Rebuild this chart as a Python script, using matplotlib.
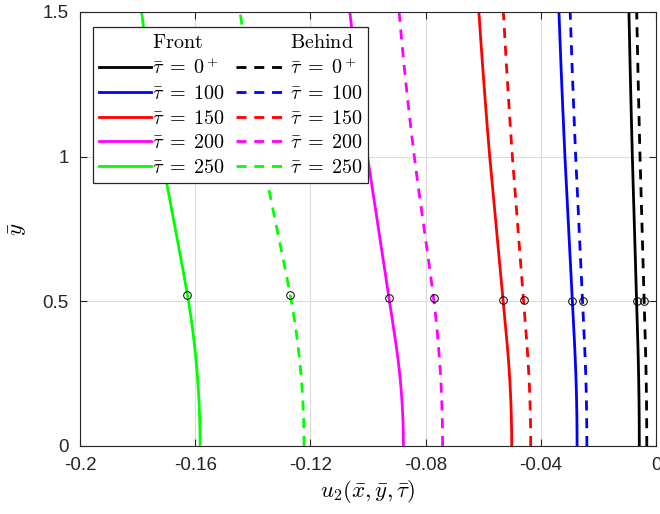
import matplotlib
matplotlib.use("Agg")
import matplotlib.pyplot as plt
from matplotlib.lines import Line2D

plt.rcParams['mathtext.fontset'] = 'cm'
plt.rcParams['font.family'] = ['Liberation Sans', 'DejaVu Sans']

# Profiles u2 along y, front (solid) and behind (dashed)
y_pts = [0, 0.05, 0.1, 0.15, 0.2, 0.25, 0.3, 0.35, 0.4, 0.45, 0.5,
         0.6, 0.7, 0.8, 0.9, 1.0, 1.1, 1.2, 1.3, 1.4, 1.5]

tau_labels = ['0^+', '100', '150', '200', '250']

front = [
    [-0.00580, -0.00581, -0.00584, -0.00589, -0.00596, -0.00605, -0.00616, -0.00629, -0.00644, -0.00659, -0.00674,
     -0.00703, -0.00733, -0.00762, -0.00792, -0.00821, -0.00847, -0.00872, -0.00896, -0.00918, -0.00940],
    [-0.02740, -0.02742, -0.02747, -0.02756, -0.02768, -0.02784, -0.02804, -0.02826, -0.02852, -0.02878, -0.02904,
     -0.02955, -0.03007, -0.03059, -0.03110, -0.03162, -0.03207, -0.03251, -0.03293, -0.03332, -0.03370],
    [-0.05010, -0.05013, -0.05023, -0.05039, -0.05061, -0.05090, -0.05125, -0.05166, -0.05213, -0.05260, -0.05306,
     -0.05400, -0.05493, -0.05587, -0.05680, -0.05774, -0.05856, -0.05935, -0.06010, -0.06082, -0.06150],
    [-0.08770, -0.08775, -0.08791, -0.08817, -0.08853, -0.08900, -0.08958, -0.09025, -0.09101, -0.09177, -0.09254,
     -0.09406, -0.09559, -0.09711, -0.09864, -0.10016, -0.10150, -0.10278, -0.10401, -0.10518, -0.10630],
    [-0.15830, -0.15834, -0.15846, -0.15866, -0.15894, -0.15930, -0.15974, -0.16027, -0.16086, -0.16155, -0.16232,
     -0.16407, -0.16595, -0.16784, -0.16973, -0.17150, -0.17312, -0.17464, -0.17606, -0.17738, -0.17860],
]
behind = [
    [-0.00320, -0.00321, -0.00324, -0.00329, -0.00336, -0.00345, -0.00355, -0.00368, -0.00382, -0.00397, -0.00411,
     -0.00440, -0.00468, -0.00497, -0.00526, -0.00555, -0.00580, -0.00604, -0.00627, -0.00649, -0.00670],
    [-0.02400, -0.02402, -0.02407, -0.02415, -0.02426, -0.02441, -0.02459, -0.02480, -0.02503, -0.02527, -0.02551,
     -0.02598, -0.02646, -0.02693, -0.02741, -0.02789, -0.02830, -0.02870, -0.02909, -0.02945, -0.02980],
    [-0.04350, -0.04353, -0.04361, -0.04374, -0.04393, -0.04417, -0.04446, -0.04480, -0.04519, -0.04558, -0.04597,
     -0.04675, -0.04753, -0.04831, -0.04909, -0.04987, -0.05055, -0.05120, -0.05183, -0.05243, -0.05300],
    [-0.07410, -0.07413, -0.07422, -0.07437, -0.07458, -0.07484, -0.07517, -0.07556, -0.07600, -0.07652, -0.07709,
     -0.07839, -0.07979, -0.08120, -0.08260, -0.08392, -0.08512, -0.08626, -0.08731, -0.08829, -0.08920],
    [-0.12220, -0.12224, -0.12238, -0.12260, -0.12290, -0.12329, -0.12378, -0.12435, -0.12500, -0.12575, -0.12660,
     -0.12850, -0.13057, -0.13263, -0.13470, -0.13663, -0.13841, -0.14007, -0.14163, -0.14307, -0.14440],
]
colors = [(0, 0, 0), (0, 0, 1), (1, 0, 0), (1, 0, 1), (0, 1, 0)]

# circle markers on each profile
mark_y = [0.50, 0.50, 0.505, 0.51, 0.522]
mark_front = [-0.00674, -0.02904, -0.05311, -0.09269, -0.16270]
mark_behind = [-0.00411, -0.02540, -0.04590, -0.07720, -0.12700]

xticks = [-0.2, -0.16, -0.12, -0.08, -0.04, 0]
xticklabels = ['-0.2', '-0.16', '-0.12', '-0.08', '-0.04', '0']
yticks = [0, 0.5, 1, 1.5]
yticklabels = ['0', '0.5', '1', '1.5']

fig = plt.figure(figsize=(6.6, 5.14), dpi=100)
ax = fig.add_axes([80/660, 68/514, 576/660, 434/514])

dash = (0, (3.6, 2.8))
h_front, h_behind = [], []
for key, xf, xb, c in zip(tau_labels, front, behind, colors):
    lab = r'$\bar{\tau}\;=\;' + key + '$'
    lf, = ax.plot(xf, y_pts, color=c, lw=2, label=lab)
    lb, = ax.plot(xb, y_pts, color=c, lw=2, linestyle=dash, label=lab)
    h_front.append(lf)
    h_behind.append(lb)

ax.plot(mark_front, mark_y, 'o', ms=5.5, mfc='none', mec='k', mew=0.7, ls='none')
ax.plot(mark_behind, mark_y, 'o', ms=5.5, mfc='none', mec='k', mew=0.7, ls='none')

ax.set_xlim(-0.2, 0)
ax.set_ylim(0, 1.5)
ax.set_xticks(xticks)
ax.set_xticklabels(xticklabels)
ax.set_yticks(yticks)
ax.set_yticklabels(yticklabels)
ax.grid(True, color='#dcdcdc', lw=0.8)
ax.set_axisbelow(True)
ax.tick_params(direction='in', top=True, right=True, length=5, width=0.8,
               colors='#262626', labelsize=13.5, pad=8)
for s in ax.spines.values():
    s.set_color('#262626')
    s.set_linewidth(0.8)

ax.set_xlabel(r'$u_2(\bar{x},\bar{y},\bar{\tau})$', fontsize=16.5, labelpad=3)
ax.set_ylabel(r'$\bar{y}$', fontsize=16.5, labelpad=10)

# two-column legend with header rows
blank = Line2D([], [], linestyle='none')
handles = [blank] + h_front + [blank] + h_behind
labels = [r'$\mathrm{Front}$'] + [h.get_label() for h in h_front] + \
         [r'$\mathrm{Behind}$'] + [h.get_label() for h in h_behind]
leg = ax.legend(handles, labels, ncol=2, loc='upper left',
                bbox_to_anchor=(13/576, 419/434), borderaxespad=0,
                fontsize=14.5, handlelength=2.6, handletextpad=0.05,
                columnspacing=0.55, labelspacing=0.28, borderpad=0.3,
                fancybox=False, framealpha=1, edgecolor='#262626')
leg.get_frame().set_linewidth(0.9)

fig.savefig('out.png', dpi=100)
